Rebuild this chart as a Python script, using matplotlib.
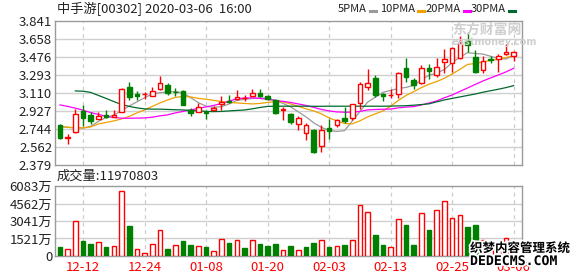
import matplotlib
matplotlib.use("Agg")
import matplotlib.pyplot as plt
import matplotlib.patheffects as pe
from matplotlib.lines import Line2D
import numpy as np

plt.rcParams['font.family'] = ['Liberation Sans Narrow', 'Noto Sans CJK SC', 'DejaVu Sans']

# trading days shown (12-09 .. 03-06)
dates = ['12-09', '12-10', '12-11', '12-12', '12-13', '12-16', '12-17', '12-18', '12-19', '12-20',
         '12-23', '12-24', '12-27', '12-30', '12-31', '01-02', '01-03', '01-06', '01-07', '01-08',
         '01-09', '01-10', '01-13', '01-14', '01-15', '01-16', '01-17', '01-20', '01-21', '01-22',
         '01-23', '01-24', '01-29', '01-30', '01-31', '02-03', '02-04', '02-05', '02-06', '02-07',
         '02-10', '02-11', '02-12', '02-13', '02-14', '02-17', '02-18', '02-19', '02-20', '02-21',
         '02-24', '02-25', '02-26', '02-27', '02-28', '03-02', '03-03', '03-04', '03-05', '03-06']

opens = [2.79, 2.655, 2.71, 2.93, 2.89, 2.85, 2.888, 2.868, 2.92, 3.175,
         3.097, 3.095, 3.08, 3.148, 3.19, 3.125, 3.13, 2.938, 2.92, 2.915,
         2.935, 3.0, 3.025, 3.047, 3.06, 3.08, 3.108, 3.08, 3.04, 2.94,
         2.898, 2.796, 2.70, 2.73, 2.575, 2.75, 2.786, 2.857, 2.86, 3.006,
         3.175, 3.263, 3.095, 3.085, 3.097, 3.36, 3.243, 3.21, 3.36, 3.293,
         3.428, 3.41, 3.47, 3.64, 3.48, 3.34, 3.46, 3.455, 3.503, 3.49]
highs = [2.80, 2.69, 2.95, 2.99, 2.92, 2.915, 2.94, 2.935, 3.165, 3.22,
         3.134, 3.12, 3.17, 3.285, 3.21, 3.16, 3.14, 2.955, 3.005, 2.94,
         2.98, 3.08, 3.09, 3.14, 3.09, 3.15, 3.15, 3.09, 3.05, 2.965,
         2.91, 2.877, 2.81, 2.74, 2.785, 2.845, 2.85, 2.966, 3.0, 3.225,
         3.35, 3.293, 3.105, 3.15, 3.327, 3.47, 3.266, 3.39, 3.40, 3.466,
         3.56, 3.58, 3.69, 3.726, 3.55, 3.486, 3.486, 3.51, 3.605, 3.54]
lows = [2.64, 2.59, 2.70, 2.77, 2.80, 2.85, 2.855, 2.865, 2.915, 3.04,
        3.035, 3.05, 3.08, 3.145, 3.09, 3.083, 2.985, 2.88, 2.92, 2.85,
        2.935, 2.935, 3.006, 3.04, 3.033, 3.078, 3.067, 3.037, 2.898, 2.837,
        2.795, 2.73, 2.634, 2.50, 2.515, 2.64, 2.76, 2.81, 2.837, 2.945,
        3.14, 3.067, 3.033, 3.06, 3.063, 3.22, 3.155, 3.205, 3.25, 3.276,
        3.31, 3.327, 3.46, 3.523, 3.31, 3.31, 3.41, 3.327, 3.50, 3.43]
closes = [2.65, 2.665, 2.90, 2.855, 2.83, 2.88, 2.868, 2.888, 3.15, 3.067,
          3.08, 3.10, 3.128, 3.21, 3.115, 3.12, 2.99, 2.905, 2.97, 2.905,
          2.955, 3.023, 3.02, 3.067, 3.063, 3.114, 3.075, 3.05, 2.905, 2.945,
          2.82, 2.854, 2.79, 2.51, 2.735, 2.728, 2.837, 2.83, 2.996, 3.205,
          3.212, 3.09, 3.075, 3.09, 3.31, 3.27, 3.19, 3.36, 3.33, 3.371,
          3.452, 3.565, 3.615, 3.598, 3.327, 3.43, 3.447, 3.486, 3.525, 3.53]
prev_close = 2.80  # close of the day before the first candle

volumes = [7600000, 6460000, 30300000, 12830000, 10210000, 11960000, 7600000, 9080000, 56480000, 25930000,
           6460000, 2360000, 10820000, 22170000, 5850000, 9950000, 12830000, 9340000, 9080000, 7600000,
           4710000, 15190000, 11090000, 14320000, 6720000, 14320000, 10210000, 8470000, 10210000, 5590000,
           8470000, 4980000, 7600000, 11350000, 13700000, 7600000, 8470000, 9340000, 13700000, 44260000,
           37890000, 18070000, 9340000, 8200000, 31780000, 26800000, 9340000, 37000000, 22440000, 39630000,
           47490000, 32650000, 35530000, 24790000, 26800000, 13700000, 6000000, 8000000, 16060000, 11970803]

ma5 = [2.769, 2.761, 2.756, 2.753, 2.772, 2.822, 2.862, 2.885, 2.93, 2.978,
       3.02, 3.062, 3.10, 3.114, 3.12, 3.125, 3.11, 3.062, 3.012, 2.976,
       2.964, 2.972, 2.999, 3.035, 3.045, 3.055, 3.06, 3.055, 3.035, 3.004,
       2.969, 2.918, 2.867, 2.807, 2.761, 2.73, 2.72, 2.728, 2.825, 2.921,
       3.017, 3.068, 3.117, 3.136, 3.155, 3.167, 3.187, 3.244, 3.292, 3.31,
       3.35, 3.42, 3.472, 3.52, 3.511, 3.505, 3.483, 3.46, 3.455, 3.49]
ma10 = [2.773, 2.763, 2.756, 2.756, 2.766, 2.796, 2.811, 2.827, 2.847, 2.872,
        2.908, 2.938, 2.974, 3.009, 3.04, 3.065, 3.075, 3.07, 3.055, 3.047,
        3.035, 3.023, 3.014, 3.009, 3.004, 2.999, 3.004, 3.014, 3.023, 3.02,
        2.999, 2.974, 2.949, 2.928, 2.898, 2.857, 2.827, 2.801, 2.796, 2.827,
        2.867, 2.898, 2.928, 2.975, 3.035, 3.085, 3.124, 3.165, 3.20, 3.227,
        3.26, 3.303, 3.35, 3.40, 3.41, 3.425, 3.44, 3.452, 3.47, 3.488]
ma20 = [2.989, 2.974, 2.956, 2.935, 2.911, 2.893, 2.872, 2.862, 2.854, 2.854,
        2.855, 2.857, 2.864, 2.878, 2.888, 2.908, 2.923, 2.938, 2.954, 2.969,
        2.984, 3.004, 3.029, 3.05, 3.06, 3.06, 3.055, 3.045, 3.035, 3.025,
        3.014, 2.999, 2.984, 2.964, 2.943, 2.928, 2.918, 2.915, 2.915, 2.923,
        2.938, 2.943, 2.945, 2.947, 2.959, 2.967, 2.972, 2.988, 3.009, 3.03,
        3.062, 3.09, 3.126, 3.161, 3.197, 3.232, 3.263, 3.293, 3.324, 3.361]
ma30 = [np.nan, np.nan, 3.131, 3.128, 3.116, 3.085, 3.055, 3.023, 2.994, 2.974,
        2.959, 2.949, 2.946, 2.946, 2.943, 2.94, 2.938, 2.933, 2.928, 2.923,
        2.921, 2.923, 2.928, 2.933, 2.938, 2.949, 2.963, 2.974, 2.976, 2.976,
        2.976, 2.976, 2.976, 2.975, 2.975, 2.976, 2.976, 2.976, 2.976, 2.976,
        2.976, 2.976, 2.976, 2.977, 2.979, 2.981, 2.986, 2.993, 3.0, 3.02,
        3.04, 3.055, 3.07, 3.085, 3.10, 3.118, 3.133, 3.148, 3.165, 3.185]

price_ticks = [2.379, 2.562, 2.744, 2.927, 3.110, 3.293, 3.476, 3.658, 3.841]
vol_ticks = [0, 1521, 3041, 4562, 6083]  # in 万
label_dates = ['12-12', '12-24', '01-08', '01-20', '02-03', '02-13', '02-25', '03-06']

RED = '#ff0000'
GREEN = '#008000'
ma_styles = [('5PMA', ma5, '#9a9a9a'), ('10PMA', ma10, '#f0a000'),
             ('20PMA', ma20, '#ff00ff'), ('30PMA', ma30, '#006a2e')]

W, H = 578, 276
fig = plt.figure(figsize=(W / 100, H / 100), dpi=100)
fig.patch.set_facecolor('white')


def fx(px):
    return px / W


def fy(py):
    return 1 - py / H


ax_p = fig.add_axes([fx(55), fy(165), fx(522) - fx(55), fy(21) - fy(165)])
ax_v = fig.add_axes([fx(55), fy(256), fx(522) - fx(55), fy(186) - fy(256)])

x = np.arange(len(dates))
o = np.array(opens)
c = np.array(closes)
up = c >= o
label_pos = [dates.index(d) for d in label_dates]

for ax in (ax_p, ax_v):
    ax.set_xlim(-0.65, 60.08)
    for s in ax.spines.values():
        s.set_color('#9a9a9a')
        s.set_linewidth(1)
    ax.tick_params(length=0, labelsize=9.5, colors='#222222', pad=2)
    for p in label_pos:
        ax.axvline(p, color='#cccccc', lw=0.9, dashes=(3, 3), zorder=0)

# price panel
ax_p.set_ylim(price_ticks[0], price_ticks[-1])
ax_p.set_yticks(price_ticks)
ax_p.set_yticklabels([f'{t:.3f}' for t in price_ticks])
for t in price_ticks[1:-1]:
    ax_p.axhline(t, color='#d0d0d0', lw=1, zorder=0)
ax_p.set_xticks([])

for name, vals, col in ma_styles:
    ax_p.plot(x, vals, color=col, lw=0.9, zorder=2)

cand_col = np.where(up, RED, GREEN)
ax_p.vlines(x, lows, highs, colors=cand_col, lw=1, zorder=3)
body_h = c - o
body_h = np.where(np.abs(body_h) < 0.004, np.sign(body_h + 1e-9) * 0.004, body_h)
ax_p.bar(x, body_h, bottom=o, width=0.6,
         color=np.where(up, 'white', GREEN), edgecolor=cand_col, linewidth=1, zorder=4)

# volume panel
prev = np.concatenate([[prev_close], c[:-1]])
vol_up = c >= prev
vol_wan = np.array(volumes) / 1e4
ax_v.set_ylim(0, vol_ticks[-1])
ax_v.set_yticks(vol_ticks)
ax_v.set_yticklabels(['0' if t == 0 else f'{t}万' for t in vol_ticks])
for t in vol_ticks[1:-1]:
    ax_v.axhline(t, color='#d0d0d0', lw=1, zorder=0)
ax_v.bar(x, vol_wan, width=0.6, color=np.where(vol_up, 'white', GREEN),
         edgecolor=np.where(vol_up, RED, GREEN), linewidth=1, zorder=3)
ax_v.set_xticks(label_pos)
ax_v.set_xticklabels(label_dates, color=RED)
ax_v.tick_params(axis='x', pad=3.5, colors=RED)

# header texts
fig.text(fx(57), fy(9), '中手游[00302] 2020-03-06  16:00', fontsize=9.5,
         va='center', ha='left', color='#222222')

# legend: text at its place, a short colour dash right after it
renderer = fig.canvas.get_renderer()
legend_x = [338, 380, 426, 471]
for (name, vals, col), lx in zip(ma_styles, legend_x):
    t = fig.text(fx(lx), fy(9), name, fontsize=8, va='center', ha='left', color='#222222')
    dx = t.get_window_extent(renderer).x1 + 3
    fig.add_artist(Line2D([fx(dx), fx(dx + 6)], [fy(11), fy(11)], color=col, lw=2.2))

fig.text(fx(57), fy(176.5), f'成交量:{volumes[-1]}', fontsize=9.5,
         va='center', ha='left', color='#222222')

# watermarks
fig.text(fx(452), fy(30), '东方财富网', fontsize=10, fontweight='bold',
         color='#cfcfcf', va='center', ha='left')
fig.text(fx(452), fy(42), 'eastmoney.com', fontsize=7, fontweight='bold',
         color='#cfcfcf', va='center', ha='left', family='DejaVu Sans')
stroke = [pe.withStroke(linewidth=2.5, foreground='white')]
fig.text(fx(470), fy(248.5), '织梦内容管理系统', fontsize=9, fontweight='bold',
         color='black', va='center', ha='left', path_effects=stroke, zorder=10)
fig.text(fx(470), fy(261.5), 'DEDECMS.COM', fontsize=9.5, fontweight='bold',
         family='DejaVu Sans Mono', color='black', va='center', ha='left',
         path_effects=stroke, zorder=10)

fig.savefig('out.png', dpi=100)
